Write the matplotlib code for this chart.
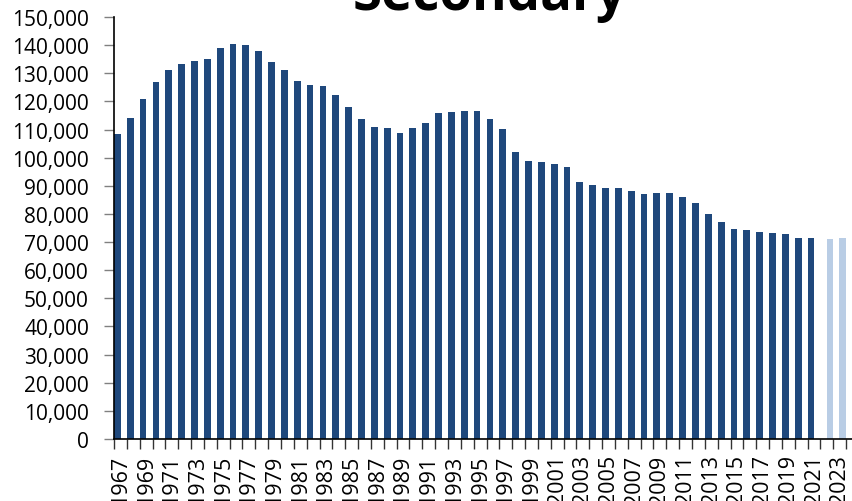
import matplotlib
matplotlib.use("Agg")
import matplotlib.pyplot as plt
import numpy as np

plt.rcParams['font.family'] = ['Open Sans', 'DejaVu Sans']

title = "Secondary"
actual_years = list(range(1967, 2022))
actual_values = [
    108500, 114200, 120900, 127000, 131300, 133400, 134500, 135200, 139100, 140500,
    140200, 138000, 134100, 131300, 127300, 125900, 125600, 122400, 118100, 113800,
    111000, 110600, 108800, 110600, 112400, 115900, 116300, 116700, 116700, 113800,
    110300, 102100, 98900, 98500, 97800, 96700, 91400, 90300, 89300, 89300,
    88200, 87100, 87500, 87500, 86100, 83900, 80000, 77200, 74800, 74200,
    73600, 73300, 72900, 71500, 71500,
]
projected_years = [2022, 2023, 2024]
projected_values = [71100, 71500, 71800]
all_years = list(range(1967, 2025))
label_years = list(range(1967, 2025, 2))

dark = '#1f487c'
light = '#b9cde5'

fig = plt.figure(figsize=(8.53, 5.02), dpi=100)
ax = fig.add_axes([114/853, 62/502, 745/853, 422/502])

x0 = all_years[0]
xa = np.array(actual_years) - x0
xp = np.array(projected_years) - x0
w = 0.53
ax.bar(xa - 0.235, actual_values, width=w, color=dark, zorder=2)
ax.bar(xp + 0.235, projected_values, width=w, color=light, zorder=2)

ax.set_xlim(-0.5, len(all_years) - 0.5)
ax.set_ylim(0, 150000)

ax.set_yticks(np.arange(0, 150001, 10000))
ax.set_yticklabels([f"{v:,}" for v in range(0, 150001, 10000)], fontsize=15)
ax.tick_params(axis='y', direction='out', length=7, width=1, color='#808080', pad=11)

ax.set_xticks(np.array(label_years) - x0)
ax.set_xticklabels([str(y) for y in label_years], rotation=90, fontsize=15.5)
ax.tick_params(axis='x', which='major', length=0, pad=11)
ax.set_xticks(np.arange(len(all_years) + 1) - 0.5, minor=True)
ax.tick_params(axis='x', which='minor', direction='out', length=7, width=1, color='#333333')

for s in ['top', 'right']:
    ax.spines[s].set_visible(False)
ax.spines['left'].set_color('black')
ax.spines['bottom'].set_color('black')
ax.spines['left'].set_linewidth(1.2)
ax.spines['bottom'].set_linewidth(1.2)

fig.text(490/853, 1 - 10/502, title, ha='center', va='baseline',
         fontsize=38, fontweight='bold', color='black')

fig.savefig('out.png', dpi=100)
